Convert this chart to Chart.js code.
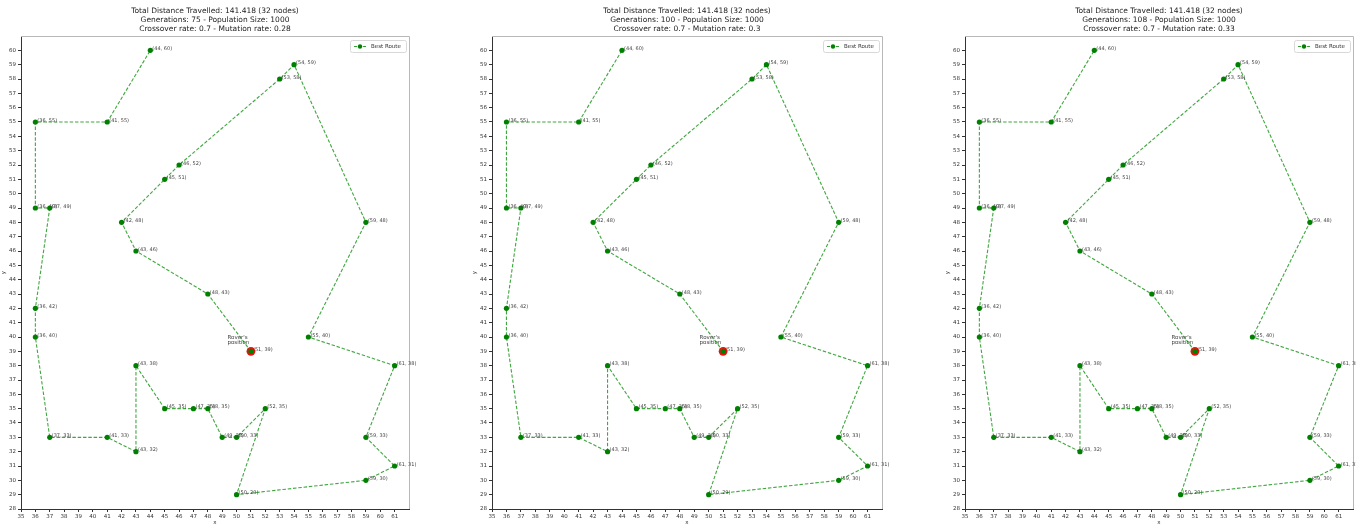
<!DOCTYPE html>
<html>
<head>
<meta charset="utf-8">
<script src="https://cdn.jsdelivr.net/npm/chart.js@4/dist/chart.umd.min.js"></script>
<style>
  body { margin: 0; background: #fff; width: 1356px; height: 526px; overflow: hidden; position: relative; }
  canvas { position: absolute; top: 0; }
</style>
</head>
<body>
<canvas id="c0"></canvas>
<canvas id="c1"></canvas>
<canvas id="c2"></canvas>
<script>
// best route found (same for every run), in visiting order
const routeX = [51, 48, 43, 42, 45, 46, 53, 54, 59, 55, 61, 59, 61, 59, 50, 52, 50, 49, 48, 47, 45, 43, 43, 41, 37, 36, 36, 37, 36, 36, 41, 44];
const routeY = [39, 43, 46, 48, 51, 52, 58, 59, 48, 40, 38, 33, 31, 30, 29, 35, 33, 33, 35, 35, 35, 38, 32, 33, 33, 40, 42, 49, 49, 55, 55, 60];

// rover start
const roverX = [51];
const roverY = [39];

// run settings per panel
const generations = [75, 100, 108];
const mutationRates = [0.28, 0.3, 0.33];
const populationSize = 1000;
const crossoverRate = 0.7;
const totalDistance = 141.418;

const xTicks = [35, 36, 37, 38, 39, 40, 41, 42, 43, 44, 45, 46, 47, 48, 49, 50, 51, 52, 53, 54, 55, 56, 57, 58, 59, 60, 61];
const yTicks = [28, 29, 30, 31, 32, 33, 34, 35, 36, 37, 38, 39, 40, 41, 42, 43, 44, 45, 46, 47, 48, 49, 50, 51, 52, 53, 54, 55, 56, 57, 58, 59, 60];

// panel placement on the page
const panelLeft = [21, 492, 965];
const panelRight = [409, 882, 1353];
const AXIS_W = 21, TOP = 36, BOTTOM_H = 17, H = 526, RIGHT_PAD = 16;

const FONT = '"DejaVu Sans", sans-serif';
const GREEN = '#008000';

const decorPlugin = {
  id: 'decor',
  afterDraw(chart, args, opts) {
    const ctx = chart.ctx;
    const a = chart.chartArea;
    const xs = chart.scales.x, ys = chart.scales.y;
    ctx.save();

    // top/right spines
    ctx.strokeStyle = '#b8b8b8';
    ctx.lineWidth = 1;
    ctx.beginPath();
    ctx.moveTo(a.left, a.top + 0.5);
    ctx.lineTo(a.right + 0.5, a.top + 0.5);
    ctx.lineTo(a.right + 0.5, a.bottom);
    ctx.stroke();

    // point labels
    ctx.fillStyle = '#444';
    ctx.font = '5px ' + FONT;
    ctx.textBaseline = 'middle';
    ctx.textAlign = 'left';
    routeX.forEach((x, i) => {
      const px = xs.getPixelForValue(x), py = ys.getPixelForValue(routeY[i]);
      ctx.fillText('(' + x + ', ' + routeY[i] + ')', px + 2, py - 1.5);
    });

    // rover annotation
    const rx = xs.getPixelForValue(49.37), ry = ys.getPixelForValue(39.97);
    ctx.font = '5.5px ' + FONT;
    ctx.fillText("Rover's", rx, ry);
    ctx.fillText('position', rx, ry + 5);

    // title
    ctx.fillStyle = '#222';
    ctx.font = '7.5px ' + FONT;
    ctx.textAlign = 'center';
    const cx = (a.left + a.right) / 2;
    opts.lines.forEach((t, i) => ctx.fillText(t, cx, 11 + i * 9));

    // legend
    const lw = 56, lh = 12;
    const lx = a.right - lw - 3, ly = a.top + 4;
    ctx.strokeStyle = '#d8d8d8';
    ctx.fillStyle = 'rgba(255,255,255,0.8)';
    ctx.beginPath();
    ctx.roundRect(lx + 0.5, ly + 0.5, lw, lh, 2);
    ctx.fill();
    ctx.stroke();
    ctx.strokeStyle = 'rgba(20,140,20,0.85)';
    ctx.setLineDash([3, 1.5]);
    ctx.beginPath();
    ctx.moveTo(lx + 4, ly + lh / 2 + 0.5);
    ctx.lineTo(lx + 16, ly + lh / 2 + 0.5);
    ctx.stroke();
    ctx.setLineDash([]);
    ctx.fillStyle = GREEN;
    ctx.beginPath();
    ctx.arc(lx + 10, ly + lh / 2 + 0.5, 2.2, 0, Math.PI * 2);
    ctx.fill();
    ctx.fillStyle = '#333';
    ctx.font = '5.5px ' + FONT;
    ctx.textAlign = 'left';
    ctx.fillText('Best Route', lx + 21, ly + lh / 2 + 0.5);

    ctx.restore();
  }
};

function makeChart(i) {
  const canvas = document.getElementById('c' + i);
  const w = AXIS_W + (panelRight[i] - panelLeft[i]) + RIGHT_PAD;
  canvas.width = w;
  canvas.height = H;
  canvas.style.left = (panelLeft[i] - AXIS_W) + 'px';

  new Chart(canvas.getContext('2d'), {
    type: 'scatter',
    data: {
      datasets: [
        {
          label: 'Best Route',
          data: routeX.map((x, k) => ({ x: x, y: routeY[k] })),
          showLine: true,
          borderColor: 'rgba(30,150,30,0.85)',
          borderWidth: 1.1,
          borderDash: [3.5, 1.8],
          pointBackgroundColor: GREEN,
          pointBorderColor: GREEN,
          pointRadius: 2.6,
          pointBorderWidth: 0,
          order: 0
        },
        {
          label: 'Rover',
          data: roverX.map((x, k) => ({ x: x, y: roverY[k] })),
          pointBackgroundColor: '#e8130f',
          pointBorderColor: '#e8130f',
          pointRadius: 4.4,
          pointBorderWidth: 0,
          order: 1
        }
      ]
    },
    options: {
      responsive: false,
      animation: false,
      layout: { padding: { top: TOP, right: RIGHT_PAD, left: 0, bottom: 0 } },
      plugins: {
        legend: { display: false },
        tooltip: { enabled: false },
        decor: {
          lines: [
            'Total Distance Travelled: ' + totalDistance + ' (' + routeX.length + ' nodes)',
            'Generations: ' + generations[i] + ' - Population Size: ' + populationSize,
            'Crossover rate: ' + crossoverRate + ' - Mutation rate: ' + mutationRates[i]
          ]
        }
      },
      scales: {
        x: {
          type: 'linear',
          min: 35, max: 62,
          afterBuildTicks: s => { s.ticks = xTicks.map(v => ({ value: v })); },
          afterFit: s => { s.height = BOTTOM_H; },
          grid: { drawOnChartArea: false, tickLength: 3, color: '#333' },
          border: { color: '#333', width: 1 },
          ticks: { color: '#333', font: { size: 5.5, family: FONT }, padding: 1, maxRotation: 0, autoSkip: false },
          title: { display: true, text: 'x', color: '#333', font: { size: 5.5, family: FONT }, padding: 0 }
        },
        y: {
          type: 'linear',
          min: 28, max: 61,
          afterBuildTicks: s => { s.ticks = yTicks.map(v => ({ value: v })); },
          afterFit: s => { s.width = AXIS_W; },
          grid: { drawOnChartArea: false, tickLength: 3, color: '#333' },
          border: { color: '#333', width: 1 },
          ticks: { color: '#333', font: { size: 5.5, family: FONT }, padding: 2, autoSkip: false },
          title: { display: true, text: 'y', color: '#333', font: { size: 5.5, family: FONT }, padding: 0 }
        }
      }
    },
    plugins: [decorPlugin]
  });
}

[0, 1, 2].forEach(makeChart);
</script>
</body>
</html>
